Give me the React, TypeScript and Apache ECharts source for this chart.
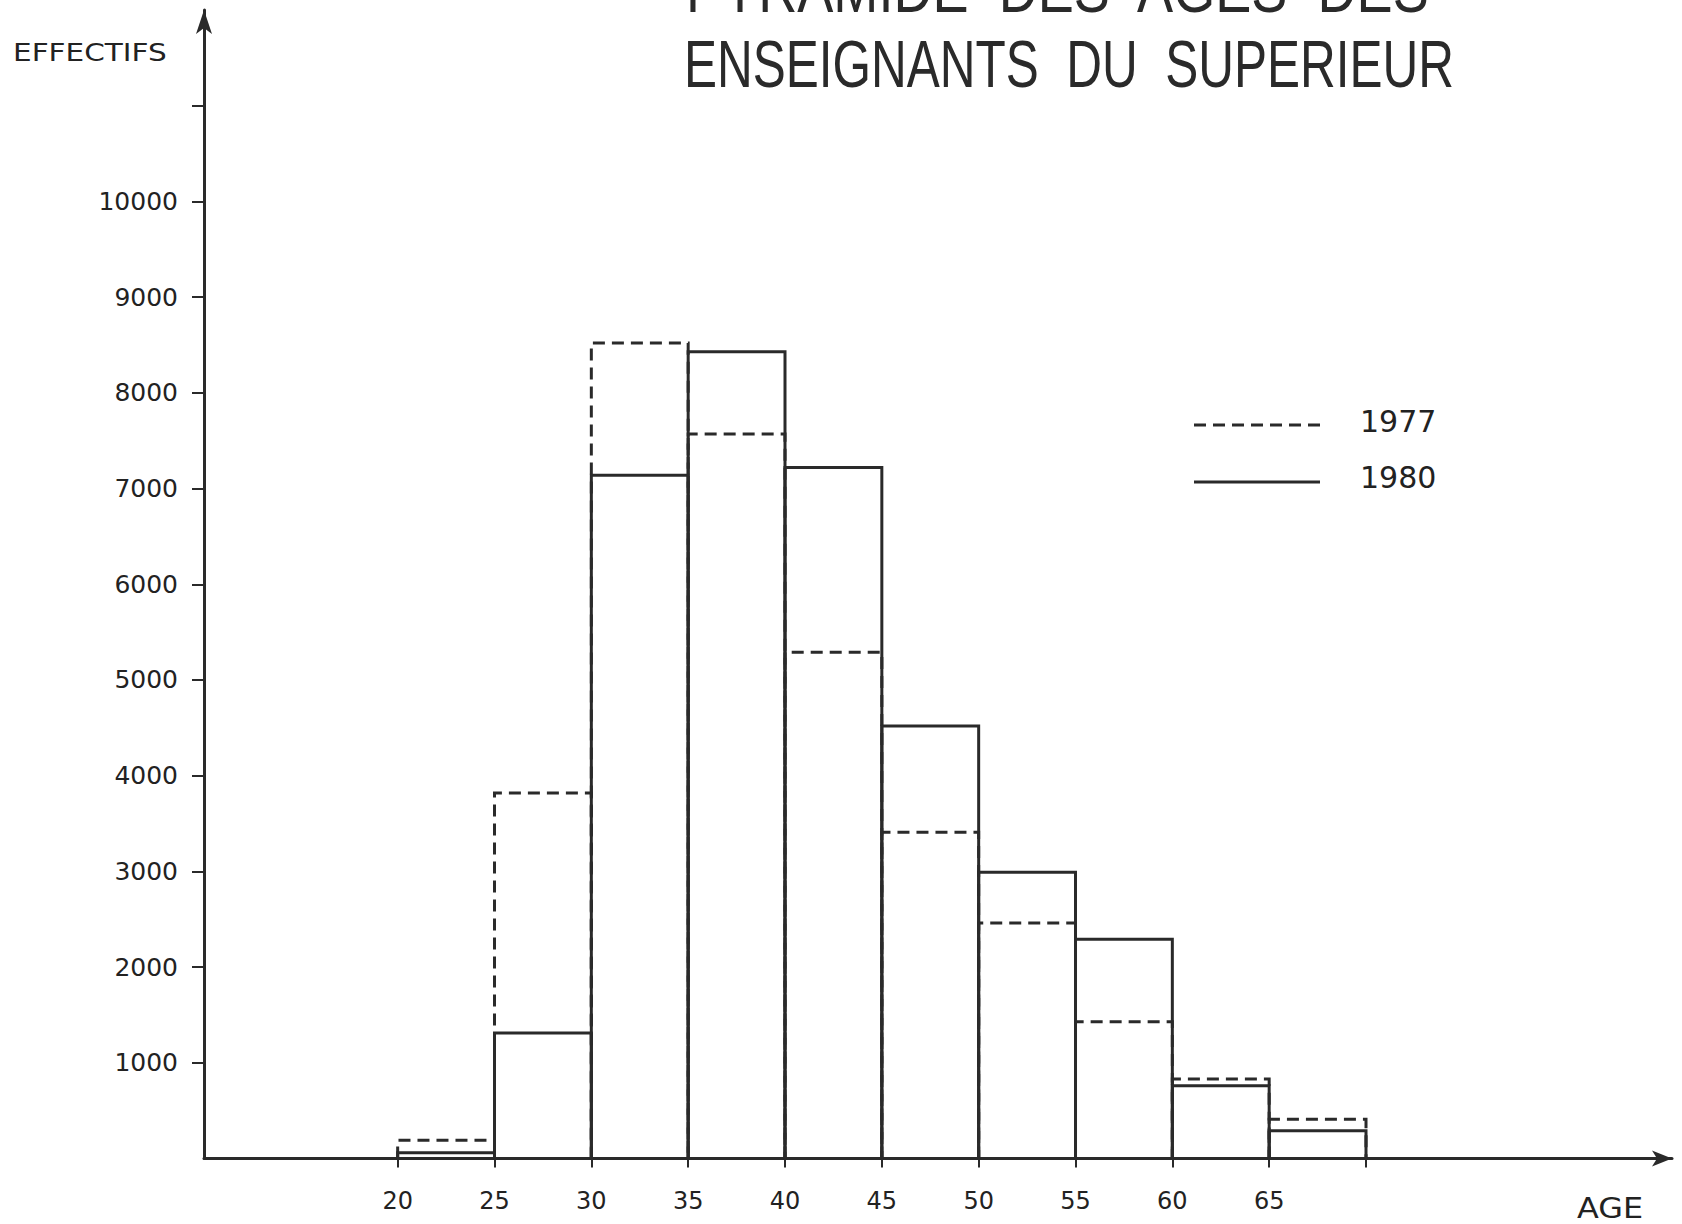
import React, { useEffect, useRef } from "react";
import * as echarts from "echarts";

// Age bins (lower edges) and upper edges, 5-year classes
const binStarts = [20, 25, 30, 35, 40, 45, 50, 55, 60, 65];
const binEnds = [25, 30, 35, 40, 45, 50, 55, 60, 65, 70];
// Effectifs
const effectifs1977 = [190, 3820, 8520, 7570, 5290, 3410, 2460, 1430, 830, 410];
const effectifs1980 = [60, 1310, 7140, 8430, 7220, 4520, 2990, 2290, 760, 290];
// Axis tick labels
const xTickValues = [20, 25, 30, 35, 40, 45, 50, 55, 60, 65, 70];
const xLabelValues = [20, 25, 30, 35, 40, 45, 50, 55, 60, 65];
const yTickValues = [1000, 2000, 3000, 4000, 5000, 6000, 7000, 8000, 9000, 10000, 11000];
const yLabelValues = [1000, 2000, 3000, 4000, 5000, 6000, 7000, 8000, 9000, 10000];
const seriesNames = ["1977", "1980"];

const INK = "#2a2a2a";
const FONT = "DejaVu Sans";

function histData(values: number[]) {
  return values.map((v, i) => [binStarts[i], binEnds[i], v]);
}

function makeRender(dashed: boolean) {
  return (params: any, api: any) => {
    const x0 = api.value(0);
    const x1 = api.value(1);
    const v = api.value(2);
    const p0 = api.coord([x0, 0]);
    const p1 = api.coord([x0, v]);
    const p2 = api.coord([x1, v]);
    const p3 = api.coord([x1, 0]);
    return {
      type: "polyline",
      shape: { points: [p0, p1, p2, p3] },
      style: {
        fill: "none",
        stroke: INK,
        lineWidth: 3,
        lineDash: dashed ? [12, 7] : null,
      },
    };
  };
}

export default function App() {
  const ref = useRef<HTMLDivElement>(null);
  useEffect(() => {
    document.body.style.margin = "0";
    const chart = echarts.init(ref.current!, null, { renderer: "svg" });
    chart.setOption({
      animation: false,
      backgroundColor: "#ffffff",
      grid: { left: 204, right: 10, top: 10, bottom: 65.5, containLabel: false },
      xAxis: {
        type: "value",
        min: 10,
        max: 85.8,
        splitLine: { show: false },
        axisLine: {
          show: true,
          onZero: false,
          symbol: ["none", "arrow"],
          symbolSize: [12, 20],
          lineStyle: { color: INK, width: 3 },
        },
        axisTick: {
          show: true,
          customValues: xTickValues,
          length: 9,
          lineStyle: { color: INK, width: 2 },
        },
        axisLabel: {
          show: true,
          customValues: xLabelValues,
          margin: 30,
          color: "#222",
          fontFamily: FONT,
          fontSize: 24,
          formatter: (v: number) => String(v),
        },
      },
      yAxis: {
        type: "value",
        min: 0,
        max: 12000,
        splitLine: { show: false },
        axisLine: {
          show: true,
          onZero: false,
          symbol: ["none", "arrow"],
          symbolSize: [12, 24],
          lineStyle: { color: INK, width: 3 },
        },
        axisTick: {
          show: true,
          customValues: yTickValues,
          length: 12,
          lineStyle: { color: INK, width: 2 },
        },
        axisLabel: {
          show: true,
          customValues: yLabelValues,
          margin: 26,
          color: "#222",
          fontFamily: FONT,
          fontSize: 25,
          formatter: (v: number) => String(v),
        },
      },
      series: [
        {
          name: seriesNames[0],
          type: "custom",
          renderItem: makeRender(true),
          encode: { x: [0, 1], y: 2 },
          data: histData(effectifs1977),
          z: 2,
        },
        {
          name: seriesNames[1],
          type: "custom",
          renderItem: makeRender(false),
          encode: { x: [0, 1], y: 2 },
          data: histData(effectifs1980),
          z: 3,
        },
      ],
      graphic: [
        {
          type: "text",
          x: 686,
          y: -11,
          scaleX: 0.82,
          style: {
            text: "PYRAMIDE  DES  AGES  DES",
            fontFamily: "Liberation Sans",
            fontSize: 66,
            fill: "#2a2a2a",
            align: "left",
            verticalAlign: "middle",
          },
        },
        {
          type: "text",
          x: 684,
          y: 64,
          scaleX: 0.75,
          style: {
            text: "ENSEIGNANTS  DU  SUPERIEUR",
            fontFamily: "Liberation Sans",
            fontSize: 66,
            fill: "#2a2a2a",
            align: "left",
            verticalAlign: "middle",
          },
        },
        {
          type: "text",
          x: 13,
          y: 52,
          scaleX: 1.18,
          style: {
            text: "EFFECTIFS",
            fontFamily: FONT,
            fontSize: 25,
            fill: "#222",
            align: "left",
            verticalAlign: "middle",
          },
        },
        {
          type: "text",
          x: 1577,
          y: 1208,
          scaleX: 1.1,
          style: {
            text: "AGE",
            fontFamily: FONT,
            fontSize: 29,
            fill: "#222",
            align: "left",
            verticalAlign: "middle",
          },
        },
        {
          type: "line",
          shape: { x1: 1194, y1: 425, x2: 1322, y2: 425 },
          style: { stroke: INK, lineWidth: 3, lineDash: [12, 7] },
        },
        {
          type: "text",
          x: 1360,
          y: 421,
          style: {
            text: seriesNames[0],
            fontFamily: FONT,
            fontSize: 30,
            fill: "#222",
            align: "left",
            verticalAlign: "middle",
          },
        },
        {
          type: "line",
          shape: { x1: 1194, y1: 482, x2: 1320, y2: 482 },
          style: { stroke: INK, lineWidth: 3 },
        },
        {
          type: "text",
          x: 1360,
          y: 477,
          style: {
            text: seriesNames[1],
            fontFamily: FONT,
            fontSize: 30,
            fill: "#222",
            align: "left",
            verticalAlign: "middle",
          },
        },
      ],
    });
    return () => chart.dispose();
  }, []);
  return (
    <div
      ref={ref}
      style={{ position: "absolute", left: 0, top: 0, width: 1682, height: 1224 }}
    />
  );
}
